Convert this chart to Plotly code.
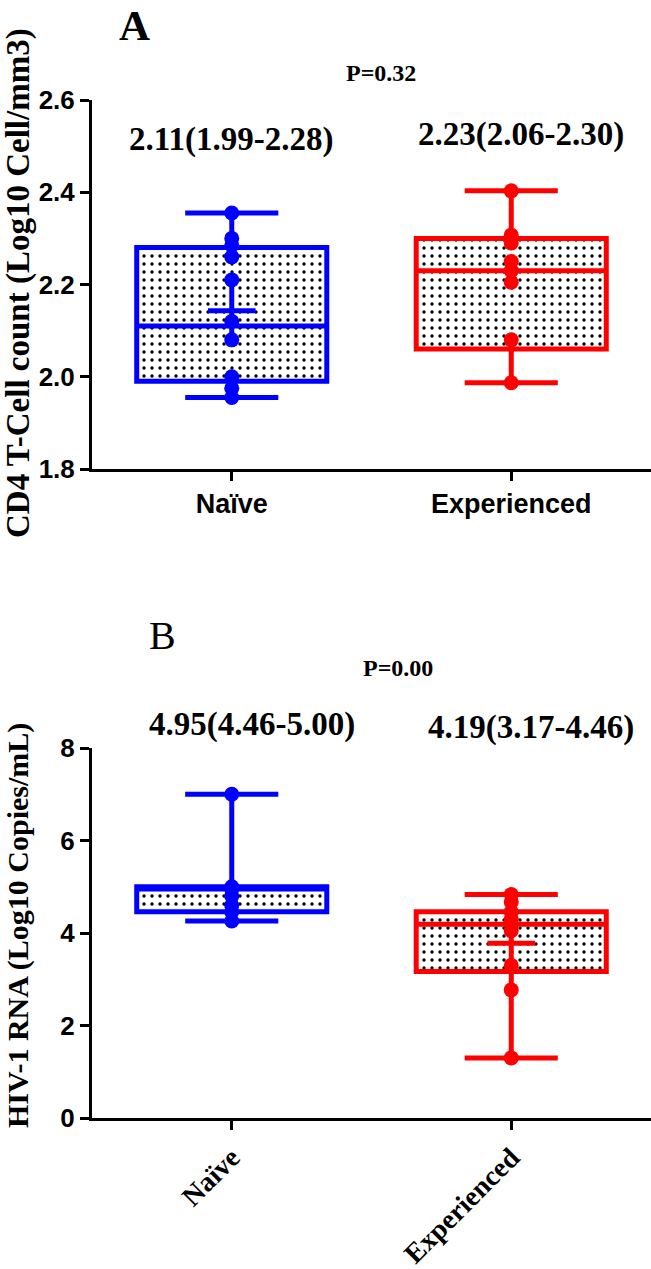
import plotly.graph_objects as go

# ---------------- data ----------------
categories = ["Naïve", "Experienced"]

# Panel A: CD4 T-cell count (log10 cells/mm3)
cd4_q1 = [1.99, 2.06]
cd4_median = [2.11, 2.23]
cd4_q3 = [2.28, 2.30]
cd4_low = [1.955, 1.987]
cd4_high = [2.355, 2.403]
cd4_mean_naive = [2.143]
cd4_naive_pts = [2.355, 2.30, 2.285, 2.26, 2.21, 2.12, 2.08, 2.00, 1.975, 1.955]
cd4_exp_pts = [2.403, 2.307, 2.29, 2.25, 2.23, 2.205, 2.08, 1.987]
cd4_labels = ["2.11(1.99-2.28)", "2.23(2.06-2.30)"]
cd4_p = "P=0.32"
cd4_ticks = [1.8, 2.0, 2.2, 2.4, 2.6]

# Panel B: HIV-1 RNA (log10 copies/mL)
rna_q1 = [4.46, 3.17]
rna_median = [4.95, 4.19]
rna_q3 = [5.00, 4.46]
rna_low = [4.26, 1.30]
rna_high = [7.0, 4.83]
rna_mean_exp = [3.78]
rna_naive_pts = [7.0, 5.0, 4.95, 4.8, 4.6, 4.46, 4.26]
rna_exp_pts = [4.83, 4.67, 4.46, 4.3, 4.19, 4.05, 3.3, 2.77, 1.30]
rna_labels = ["4.95(4.46-5.00)", "4.19(3.17-4.46)"]
rna_p = "P=0.00"
rna_ticks = [0, 2, 4, 6, 8]

colors = ["#0000FF", "#FF0000"]

W, H = 651, 1269
BOXW = 0.68
SANS = "Liberation Sans, Arial, sans-serif"
SERIF = "Liberation Serif, Times New Roman, serif"

fig = go.Figure()


def add_panel(xa, ya, q1, med, q3, lo, hi, pts_list, mean_vals, mean_idx):
    for i, cat in enumerate(categories):
        # patterned fill between quartiles
        fig.add_trace(go.Bar(
            x=[cat], y=[q3[i] - q1[i]], base=[q1[i]], width=BOXW,
            marker=dict(color="white", line=dict(width=0),
                        pattern=dict(shape=".", fgcolor="black", bgcolor="white",
                                     size=8, solidity=0.14, fillmode="replace")),
            xaxis=xa, yaxis=ya, showlegend=False, hoverinfo="skip"))
        # box outline + whiskers
        fig.add_trace(go.Box(
            x=[cat], q1=[q1[i]], median=[med[i]], q3=[q3[i]],
            lowerfence=[lo[i]], upperfence=[hi[i]],
            width=BOXW, whiskerwidth=0.49,
            fillcolor="rgba(0,0,0,0)", line=dict(color=colors[i], width=5),
            boxpoints=False, xaxis=xa, yaxis=ya, showlegend=False))
        # data points
        fig.add_trace(go.Scatter(
            x=[cat] * len(pts_list[i]), y=pts_list[i], mode="markers",
            marker=dict(color=colors[i], size=15, line=dict(width=0)),
            cliponaxis=False, xaxis=xa, yaxis=ya, showlegend=False))
    # mean cross
    fig.add_trace(go.Scatter(
        x=[categories[mean_idx]], y=mean_vals, mode="markers",
        marker=dict(symbol="cross-thin", size=34,
                    line=dict(color=colors[mean_idx], width=5)),
        cliponaxis=False, xaxis=xa, yaxis=ya, showlegend=False))


add_panel("x", "y", cd4_q1, cd4_median, cd4_q3, cd4_low, cd4_high,
          [cd4_naive_pts, cd4_exp_pts], cd4_mean_naive, 0)
add_panel("x2", "y2", rna_q1, rna_median, rna_q3, rna_low, rna_high,
          [rna_naive_pts, rna_exp_pts], rna_mean_exp, 1)

xdom = [92 / W, 1.0]
domA = [1 - 469 / H, 1 - 100 / H]
domB = [1 - 1118 / H, 1 - 748 / H]

axis_common = dict(showline=True, linecolor="black", linewidth=3,
                   ticks="outside", ticklen=9, tickwidth=3, tickcolor="black",
                   showgrid=False, zeroline=False, automargin=False)

fig.update_layout(
    width=W, height=H,
    margin=dict(l=0, r=0, t=0, b=0),
    paper_bgcolor="white", plot_bgcolor="white",
    barmode="overlay", boxmode="overlay",
    xaxis=dict(domain=xdom, anchor="y", type="category",
               categoryorder="array", categoryarray=categories,
               range=[-0.5, 1.5],
               tickfont=dict(family=SANS, size=27, color="black", weight="bold"),
               **axis_common),
    yaxis=dict(domain=domA, anchor="x", range=[1.8, 2.6],
               tickvals=cd4_ticks, ticktext=[f"{v:.1f}" for v in cd4_ticks],
               tickfont=dict(family=SANS, size=26, color="black", weight="bold"),
               **axis_common),
    xaxis2=dict(domain=xdom, anchor="y2", type="category",
                categoryorder="array", categoryarray=categories,
                range=[-0.5, 1.5], tickangle=-45,
                tickfont=dict(family=SERIF, size=28, color="black", weight="bold"),
                **axis_common),
    yaxis2=dict(domain=domB, anchor="x2", range=[0, 8],
                tickvals=rna_ticks, ticktext=[str(v) for v in rna_ticks],
                tickfont=dict(family=SANS, size=26, color="black", weight="bold"),
                **axis_common),
)


def px_x(p):
    return p / W


def px_y(p):
    return 1 - p / H


ann = []
serif_b = lambda s: dict(family=SERIF, size=s, color="black", weight="bold")
# panel letters
ann.append(dict(text="A", x=px_x(134), y=1.0, yanchor="top", font=serif_b(43)))
ann.append(dict(text="B", x=px_x(162), y=px_y(636),
                font=dict(family=SERIF, size=40, color="black")))
# p values
ann.append(dict(text=cd4_p, x=px_x(381), y=px_y(73), font=serif_b(24)))
ann.append(dict(text=rna_p, x=px_x(398), y=px_y(668), font=serif_b(24)))
# median (IQR) labels
for i, cat in enumerate(categories):
    ann.append(dict(text=cd4_labels[i], x=px_x([231, 521][i]), y=px_y([139, 134][i]),
                    font=serif_b(33)))
    ann.append(dict(text=rna_labels[i], x=px_x([252, 531][i]), y=px_y([724, 727][i]),
                    font=serif_b(33)))
# axis titles
ann.append(dict(text="CD4 T-Cell count (Log10 Cell/mm3)", x=px_x(18), y=px_y(283),
                textangle=-90, font=serif_b(33)))
ann.append(dict(text="HIV-1 RNA (Log10 Copies/mL)", x=px_x(18), y=px_y(926),
                textangle=-90, font=serif_b(30)))

for a in ann:
    a.setdefault("yanchor", "middle")
    a.update(xref="paper", yref="paper", showarrow=False, xanchor="center")
fig.update_layout(annotations=ann)

fig.write_html("out.html",
               config={"displayModeBar": False},
               post_script="document.body.style.margin='0px';"
                           "document.body.style.overflow='hidden';")
